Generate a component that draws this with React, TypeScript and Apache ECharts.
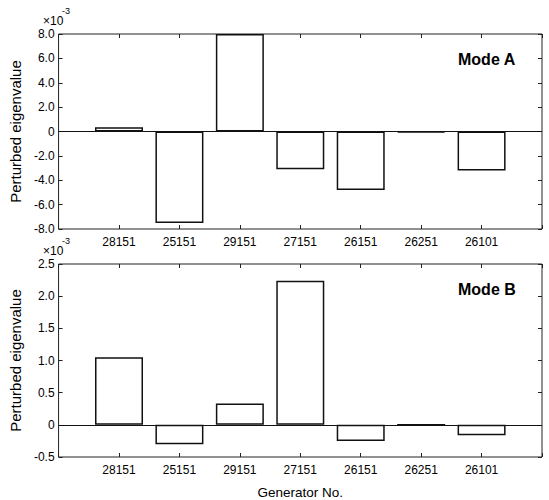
import React, { useEffect, useRef } from "react";
import * as echarts from "echarts";

const categories = ["28151", "25151", "29151", "27151", "26151", "26251", "26101"];
// values in units of 1e-3
const modeA = [0.35, -7.5, 8.0, -3.1, -4.8, -0.08, -3.2];
const modeB = [1.05, -0.3, 0.33, 2.24, -0.25, 0.0, -0.16];
const yRangeA = { min: -8, max: 8, interval: 2 };
const yRangeB = { min: -0.5, max: 2.5, interval: 0.5 };
const modeLabels = ["Mode A", "Mode B"];
const xTitle = "Generator No.";
const yTitle = "Perturbed eigenvalue";

const FONT = '"Liberation Sans", Arial, Helvetica, sans-serif';
const INK = "#000";

export default function App() {
  const ref = useRef<HTMLDivElement>(null);
  useEffect(() => {
    if (!ref.current) return;
    const chart = echarts.init(ref.current, null, { renderer: "svg" });
    const grids = [
      { left: 53, top: 34, width: 489, height: 195 },
      { left: 53, top: 264, width: 489, height: 195 },
    ];
    const ranges = [yRangeA, yRangeB];
    const datasets = [modeA, modeB];
    const catLabel = (v: number) => {
      const i = Math.round(v) - 1;
      return i >= 0 && i < categories.length ? categories[i] : "";
    };
    const yFmt = (v: number) => (Math.abs(v) < 1e-9 ? "0" : v.toFixed(1));
    const tick = { show: true, inside: true, length: 4, lineStyle: { color: "#222", width: 1 } };
    const noLine = { show: false, onZero: false };

    const xAxis: any[] = [];
    const yAxis: any[] = [];
    const series: any[] = [];
    grids.forEach((_, gi) => {
      xAxis.push({
        gridIndex: gi,
        type: "value",
        min: 0,
        max: categories.length + 1,
        interval: 1,
        position: "bottom",
        axisLine: noLine,
        splitLine: { show: false },
        axisTick: tick,
        axisLabel: {
          formatter: catLabel,
          color: INK,
          fontSize: 12,
          fontFamily: FONT,
          margin: 7,
          showMinLabel: true,
          showMaxLabel: true,
        },
        ...(gi === 1
          ? {
              name: xTitle,
              nameLocation: "middle",
              nameGap: 28,
              nameTextStyle: { fontSize: 13.5, color: INK, fontFamily: FONT },
            }
          : {}),
      });
      xAxis.push({
        gridIndex: gi,
        type: "value",
        min: 0,
        max: categories.length + 1,
        interval: 1,
        position: "top",
        axisLine: noLine,
        splitLine: { show: false },
        axisTick: tick,
        axisLabel: { show: false },
      });
      yAxis.push({
        gridIndex: gi,
        type: "value",
        ...ranges[gi],
        position: "left",
        axisLine: noLine,
        splitLine: { show: false },
        axisTick: tick,
        axisLabel: { formatter: yFmt, color: INK, fontSize: 12, fontFamily: FONT, margin: 4 },
        name: yTitle,
        nameLocation: "middle",
        nameGap: 30,
        nameTextStyle: { fontSize: 15, color: INK, fontFamily: FONT },
      });
      yAxis.push({
        gridIndex: gi,
        type: "value",
        ...ranges[gi],
        position: "right",
        axisLine: noLine,
        splitLine: { show: false },
        axisTick: tick,
        axisLabel: { show: false },
      });
      series.push({
        type: "bar",
        xAxisIndex: gi * 2,
        yAxisIndex: gi * 2,
        data: datasets[gi].map((v, i) => [i + 1, v]),
        barWidth: 48,
        itemStyle: { color: "#fff", borderColor: "#111", borderWidth: 1.5 },
        markLine: {
          silent: true,
          symbol: "none",
          label: { show: false },
          lineStyle: { color: "#111", type: "solid", width: 1.2 },
          data: [{ yAxis: 0 }],
        },
      });
    });

    const graphic: any[] = [];
    grids.forEach((g, gi) => {
      graphic.push({
        type: "text",
        x: 43,
        y: g.top - 13,
        style: { text: "×10", fontSize: 12, fontFamily: FONT, fill: INK, verticalAlign: "middle" },
      });
      graphic.push({
        type: "text",
        x: 62,
        y: g.top - 28,
        style: { text: "-3", fontSize: 9, fontFamily: FONT, fill: INK, verticalAlign: "top" },
      });
      graphic.push({
        type: "text",
        x: 458,
        y: g.top + 25,
        style: {
          text: modeLabels[gi],
          fontSize: 16,
          fontWeight: "bold",
          fontFamily: FONT,
          fill: "#000",
          verticalAlign: "middle",
        },
      });
    });

    chart.setOption({
      animation: false,
      backgroundColor: "#fff",
      textStyle: { fontFamily: FONT },
      grid: grids.map((g) => ({
        ...g,
        show: true,
        borderColor: "#222",
        borderWidth: 1,
        backgroundColor: "transparent",
      })),
      xAxis,
      yAxis,
      series,
      graphic,
    });
    return () => chart.dispose();
  }, []);
  return (
    <div
      ref={ref}
      style={{ position: "fixed", left: 0, top: 0, width: 549, height: 500 }}
    />
  );
}
